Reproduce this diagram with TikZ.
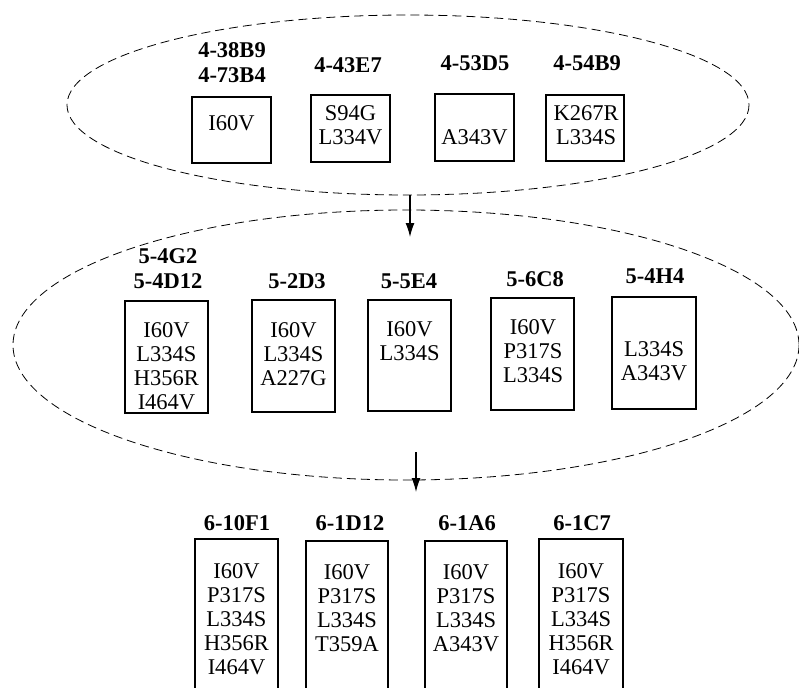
\documentclass[tikz,border=0pt]{standalone}
\usepackage{fontspec}
\setmainfont{Liberation Serif}
\usetikzlibrary{arrows.meta}
\begin{document}
\begin{tikzpicture}[x=1pt,y=-1pt,
  mbox/.style={draw, line width=1.2pt, inner sep=0pt, shape=rectangle},
  txt/.style={align=center, inner sep=0pt, font=\fontsize{22.5}{24}\selectfont},
  lab/.style={align=center, inner sep=0pt, font=\fontsize{22.5}{25}\selectfont\bfseries},
  group/.style={draw, dash pattern=on 9pt off 5pt, line width=0.8pt},
  flow/.style={line width=1.3pt, -{Latex[length=14pt,width=9pt]}}]
\clip (0,0) rectangle (799,687);
% groups
\draw[group] (408,105) ellipse [x radius=341, y radius=90];
\draw[group] (406,345) ellipse [x radius=393, y radius=135];
% top row
\node[mbox, minimum width=79pt, minimum height=66pt] (b1) at (231.5,130) {};
\node[mbox, minimum width=79pt, minimum height=67pt] (b2) at (350.5,128.5) {};
\node[mbox, minimum width=79pt, minimum height=67pt] (b3) at (474.5,127.5) {};
\node[mbox, minimum width=78pt, minimum height=66pt] (b4) at (585,128) {};
\node[txt] (t1) at (231.5,123) {I60V};
\node[txt] (t2) at (350.5,125) {S94G\\L334V};
\node[txt] (t3) at (474.5,137) {A343V};
\node[txt] (t4) at (586,125) {K267R\\L334S};
\node[lab] (l1) at (232,63) {4-38B9\\4-73B4};
\node[lab] (l2) at (348,65) {4-43E7};
\node[lab] (l3) at (475,63) {4-53D5};
\node[lab] (l4) at (587,63) {4-54B9};
% middle row
\node[mbox, minimum width=83pt, minimum height=112pt] (bA) at (166.5,357) {};
\node[mbox, minimum width=83pt, minimum height=112pt] (bB) at (293.5,356) {};
\node[mbox, minimum width=83pt, minimum height=111pt] (bC) at (409.5,355.5) {};
\node[mbox, minimum width=83pt, minimum height=112pt] (bD) at (532.5,354) {};
\node[mbox, minimum width=84pt, minimum height=112pt] (bE) at (654,353) {};
\node[txt] (tA) at (166.5,366) {I60V\\L334S\\H356R\\I464V};
\node[txt] (tB) at (293.5,354) {I60V\\L334S\\A227G};
\node[txt] (tC) at (409.5,341) {I60V\\L334S};
\node[txt] (tD) at (533,351) {I60V\\P317S\\L334S};
\node[txt] (tE) at (654,361.5) {L334S\\A343V};
\node[lab] (lA) at (168,269) {5-4G2\\5-4D12};
\node[lab] (lB) at (297,281) {5-2D3};
\node[lab] (lC) at (409,281) {5-5E4};
\node[lab] (lD) at (535,279) {5-6C8};
\node[lab] (lE) at (655,276) {5-4H4};
% bottom row
\node[mbox, minimum width=83pt, minimum height=161pt] (bp) at (236.5,619.5) {};
\node[mbox, minimum width=82pt, minimum height=159pt] (bq) at (347,620.5) {};
\node[mbox, minimum width=82pt, minimum height=159pt] (br) at (466,620.5) {};
\node[mbox, minimum width=84pt, minimum height=161pt] (bs) at (581,619.5) {};
\node[txt] (tp) at (236.5,619.5) {I60V\\P317S\\L334S\\H356R\\I464V};
\node[txt] (tq) at (347,608) {I60V\\P317S\\L334S\\T359A};
\node[txt] (tr) at (466,608) {I60V\\P317S\\L334S\\A343V};
\node[txt] (ts) at (581,619.5) {I60V\\P317S\\L334S\\H356R\\I464V};
\node[lab] (lp) at (237,523) {6-10F1};
\node[lab] (lq) at (350,523) {6-1D12};
\node[lab] (lr) at (467,523) {6-1A6};
\node[lab] (ls) at (582,523) {6-1C7};
% arrows
\coordinate (a1s) at (410,195);
\coordinate (a1e) at (410,237);
\coordinate (a2s) at (416,452);
\coordinate (a2e) at (416,492);
\draw[flow] (a1s) -- (a1e);
\draw[flow] (a2s) -- (a2e);
\end{tikzpicture}
\end{document}
